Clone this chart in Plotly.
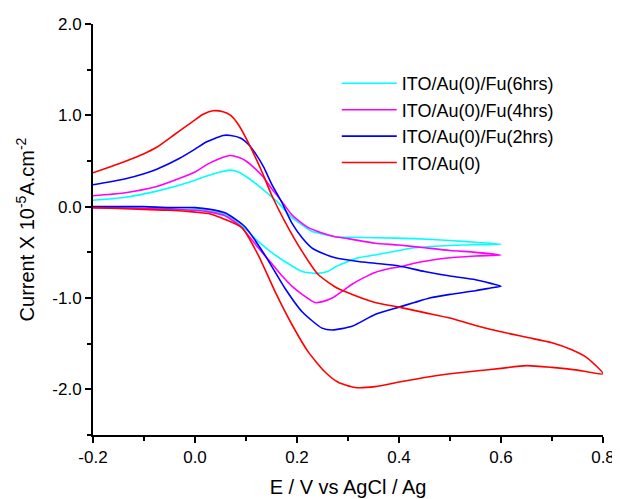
import plotly.graph_objects as go

# ITO/Au(0) (red)
red_x = [-0.2, -0.15, -0.1, -0.05, 0.0, 0.03, 0.059, 0.092, 0.124, 0.157, 0.19, 0.222, 0.255, 0.28, 0.314, 0.353, 0.4, 0.45, 0.5, 0.55, 0.6, 0.65, 0.7, 0.75, 0.8,
         0.77, 0.74, 0.7, 0.65, 0.6, 0.55, 0.5, 0.45, 0.4, 0.353, 0.294, 0.275, 0.241, 0.21, 0.176, 0.15, 0.133, 0.115, 0.1, 0.085, 0.07, 0.055, 0.035, 0.015, 0.0, -0.02, -0.04, -0.075, -0.1, -0.14, -0.17, -0.2]
red_y = [-0.01, -0.02, -0.03, -0.04, -0.06, -0.08, -0.14, -0.23, -0.53, -0.93, -1.29, -1.59, -1.81, -1.92, -1.98, -1.97, -1.92, -1.87, -1.83, -1.8, -1.77, -1.74, -1.76, -1.79, -1.83,
         -1.66, -1.57, -1.49, -1.43, -1.37, -1.3, -1.22, -1.16, -1.1, -1.05, -0.93, -0.88, -0.74, -0.49, -0.16, 0.13, 0.36, 0.58, 0.75, 0.9, 1.0, 1.04, 1.05, 1.01, 0.95, 0.87, 0.79, 0.65, 0.58, 0.49, 0.43, 0.37]

# ITO/Au(0)/Fu(2hrs) (blue)
blue_x = [-0.2, -0.15, -0.1, -0.05, 0.0, 0.03, 0.06, 0.098, 0.137, 0.176, 0.21, 0.249, 0.269, 0.308, 0.353, 0.4, 0.43, 0.46, 0.5, 0.55, 0.58, 0.6,
          0.58, 0.55, 0.5, 0.45, 0.4, 0.353, 0.32, 0.275, 0.25, 0.229, 0.21, 0.19, 0.17, 0.15, 0.135, 0.12, 0.105, 0.09, 0.07, 0.055, 0.04, 0.023, 0.0, -0.03, -0.075, -0.1, -0.14, -0.2]
blue_y = [0.0, 0.0, 0.0, -0.01, -0.01, -0.03, -0.07, -0.22, -0.53, -0.89, -1.15, -1.33, -1.35, -1.31, -1.18, -1.1, -1.05, -1.0, -0.96, -0.92, -0.89, -0.87,
          -0.84, -0.8, -0.76, -0.71, -0.65, -0.62, -0.6, -0.56, -0.51, -0.45, -0.34, -0.18, 0.05, 0.25, 0.43, 0.57, 0.68, 0.75, 0.78, 0.78, 0.75, 0.71, 0.63, 0.53, 0.41, 0.36, 0.30, 0.24]

# ITO/Au(0)/Fu(4hrs) (magenta)
mag_x = [-0.2, -0.1, 0.0, 0.03, 0.059, 0.09, 0.124, 0.15, 0.171, 0.19, 0.21, 0.235, 0.25, 0.269, 0.29, 0.308, 0.33, 0.353, 0.38, 0.4, 0.43, 0.46, 0.5, 0.55, 0.6,
         0.55, 0.5, 0.45, 0.4, 0.353, 0.3, 0.275, 0.245, 0.222, 0.2, 0.19, 0.175, 0.16, 0.15, 0.133, 0.115, 0.1, 0.085, 0.069, 0.05, 0.023, 0.0, -0.03, -0.075, -0.14, -0.2]
mag_y = [-0.01, -0.02, -0.04, -0.06, -0.1, -0.22, -0.45, -0.62, -0.76, -0.87, -0.96, -1.05, -1.04, -1.0, -0.92, -0.85, -0.78, -0.72, -0.68, -0.66, -0.62, -0.59, -0.56, -0.54, -0.53,
         -0.5, -0.48, -0.45, -0.42, -0.40, -0.35, -0.33, -0.28, -0.23, -0.14, -0.09, 0.02, 0.13, 0.2, 0.33, 0.43, 0.5, 0.54, 0.56, 0.53, 0.46, 0.38, 0.31, 0.22, 0.15, 0.12]

# ITO/Au(0)/Fu(6hrs) (cyan)
cyan_x = [-0.2, -0.1, 0.0, 0.03, 0.059, 0.09, 0.124, 0.15, 0.176, 0.21, 0.239, 0.26, 0.275, 0.3, 0.32, 0.353, 0.4, 0.43, 0.48, 0.525, 0.6,
          0.55, 0.5, 0.43, 0.353, 0.3, 0.275, 0.25, 0.229, 0.21, 0.19, 0.175, 0.16, 0.133, 0.115, 0.1, 0.085, 0.069, 0.05, 0.02, -0.01, -0.075, -0.14, -0.2]
cyan_y = [-0.01, -0.02, -0.03, -0.05, -0.08, -0.2, -0.38, -0.5, -0.6, -0.71, -0.73, -0.71, -0.66, -0.6, -0.56, -0.53, -0.48, -0.45, -0.43, -0.42, -0.41,
          -0.39, -0.37, -0.35, -0.34, -0.335, -0.33, -0.3, -0.27, -0.2, -0.12, -0.03, 0.06, 0.19, 0.27, 0.33, 0.38, 0.40, 0.38, 0.33, 0.27, 0.17, 0.10, 0.07]

names = ["ITO/Au(0)/Fu(6hrs)", "ITO/Au(0)/Fu(4hrs)", "ITO/Au(0)/Fu(2hrs)", "ITO/Au(0)"]
colors = ["#00FFFF", "#FF00FF", "#0000FF", "#FF0000"]
xs = [cyan_x, mag_x, blue_x, red_x]
ys = [cyan_y, mag_y, blue_y, red_y]

x_ticks = [-0.2, 0.0, 0.2, 0.4, 0.6, 0.8]
y_ticks = [-2.0, -1.0, 0.0, 1.0, 2.0]

fig = go.Figure()
for n, c, x, y in zip(names, colors, xs, ys):
    fig.add_trace(go.Scatter(x=x, y=y, mode="lines", name=n,
                             line=dict(color=c, width=1.6, shape="spline", smoothing=0.6)))

font = "Liberation Sans, Arial, sans-serif"
fig.update_layout(
    width=612, height=491,
    margin=dict(l=85, r=17, t=16, b=64),
    paper_bgcolor="white", plot_bgcolor="white",
    font=dict(family=font, size=17, color="black"),
    showlegend=True,
    legend=dict(x=0.478, y=0.9, xanchor="left", yanchor="top",
                bgcolor="rgba(0,0,0,0)", font=dict(size=18, family=font),
                tracegroupgap=0, itemwidth=55),
)
fig.update_xaxes(range=[-0.2, 0.8], tickvals=x_ticks, ticktext=[f"{v:.1f}" for v in x_ticks],
                 showline=True, linecolor="black", linewidth=2, mirror=False,
                 ticks="outside", ticklen=6, tickwidth=2, tickcolor="black",
                 minor=dict(dtick=0.1, tick0=-0.2, ticks="outside", ticklen=4, tickwidth=2, tickcolor="black"),
                 showgrid=False, zeroline=False, automargin=False,
                 title=dict(text="E / V vs AgCl / Ag", font=dict(size=20), standoff=14))
fig.update_yaxes(range=[-2.5, 2.0], tickvals=y_ticks, ticktext=[f"{v:.1f}" for v in y_ticks],
                 showline=True, linecolor="black", linewidth=2, mirror=False,
                 ticks="outside", ticklen=6, tickwidth=2, tickcolor="black",
                 minor=dict(dtick=0.5, tick0=-2.5, ticks="outside", ticklen=4, tickwidth=2, tickcolor="black"),
                 showgrid=False, zeroline=False, automargin=False,
                 title=dict(text="Current X 10<sup>-5</sup>A.cm<sup>-2</sup>", font=dict(size=20), standoff=12))

fig.write_html("out.html")
